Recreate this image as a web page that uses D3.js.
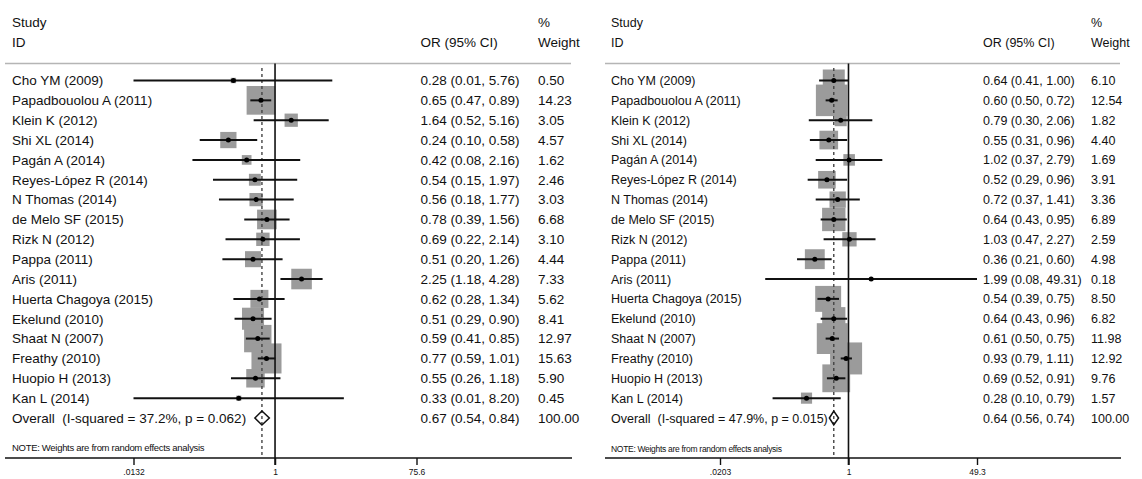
<!DOCTYPE html>
<html>
<head>
<meta charset="utf-8">
<script src="https://cdn.jsdelivr.net/npm/d3@7"></script>
<style>
  html, body { margin: 0; padding: 0; background: #fff; }
  svg { display: block; }
  text { font-family: "Liberation Sans", Arial, sans-serif; fill: #111; white-space: pre; }
</style>
</head>
<body>
<div id="chart"></div>
<script>
// ---------- data ----------
const studies = ["Cho YM (2009)", "Papadbouolou A (2011)", "Klein K (2012)", "Shi XL (2014)",
  "Pagán A (2014)", "Reyes-López R (2014)", "N Thomas (2014)", "de Melo SF (2015)",
  "Rizk N (2012)", "Pappa (2011)", "Aris (2011)", "Huerta Chagoya (2015)", "Ekelund (2010)",
  "Shaat N (2007)", "Freathy (2010)", "Huopio H (2013)", "Kan L (2014)"];

const leftOR  = [0.28, 0.65, 1.64, 0.24, 0.42, 0.54, 0.56, 0.78, 0.69, 0.51, 2.25, 0.62, 0.51, 0.59, 0.77, 0.55, 0.33];
const leftLo  = [0.01, 0.47, 0.52, 0.10, 0.08, 0.15, 0.18, 0.39, 0.22, 0.20, 1.18, 0.28, 0.29, 0.41, 0.59, 0.26, 0.01];
const leftHi  = [5.76, 0.89, 5.16, 0.58, 2.16, 1.97, 1.77, 1.56, 2.14, 1.26, 4.28, 1.34, 0.90, 0.85, 1.01, 1.18, 8.20];
const leftW   = [0.50, 14.23, 3.05, 4.57, 1.62, 2.46, 3.03, 6.68, 3.10, 4.44, 7.33, 5.62, 8.41, 12.97, 15.63, 5.90, 0.45];
const leftOverall = [0.67, 0.54, 0.84];     // OR, lo, hi
const leftHet = ["37.2%", "0.062"];          // I-squared, p
const leftTicks = [0.0132, 1, 75.6];
const leftTickLabels = [".0132", "1", "75.6"];

const rightOR = [0.64, 0.60, 0.79, 0.55, 1.02, 0.52, 0.72, 0.64, 1.03, 0.36, 1.99, 0.54, 0.64, 0.61, 0.93, 0.69, 0.28];
const rightLo = [0.41, 0.50, 0.30, 0.31, 0.37, 0.29, 0.37, 0.43, 0.47, 0.21, 0.08, 0.39, 0.43, 0.50, 0.79, 0.52, 0.10];
const rightHi = [1.00, 0.72, 2.06, 0.96, 2.79, 0.96, 1.41, 0.95, 2.27, 0.60, 49.31, 0.75, 0.96, 0.75, 1.11, 0.91, 0.79];
const rightW  = [6.10, 12.54, 1.82, 4.40, 1.69, 3.91, 3.36, 6.89, 2.59, 4.98, 0.18, 8.50, 6.82, 11.98, 12.92, 9.76, 1.57];
const rightOverall = [0.64, 0.56, 0.74];
const rightHet = ["47.9%", "0.015"];
const rightTicks = [0.0203, 1, 49.3];
const rightTickLabels = [".0203", "1", "49.3"];

const noteText = "NOTE: Weights are from random effects analysis";

// ---------- drawing ----------
const W = 1142, H = 479;
const svg = d3.select("#chart").append("svg").attr("width", W).attr("height", H);
svg.append("rect").attr("width", W).attr("height", H).attr("fill", "#fff");

const f2 = d3.format(".2f");

function panel(cfg) {
  const g = svg.append("g");
  const n = cfg.or.length;
  const y = d3.scaleLinear().domain([0, n]).range([80.5, 418]);
  const x = d3.scaleLog().domain([cfg.ticks[0], cfg.ticks[2]]).range(cfg.xr).clamp(true);
  const side = d3.scaleSqrt().domain([0, 1]).range([0, cfg.k]);
  const fs = cfg.fs;

  // header
  g.append("text").attr("x", cfg.nameX).attr("y", 27).attr("font-size", fs).text("Study");
  g.append("text").attr("x", cfg.nameX).attr("y", 47).attr("font-size", fs).text("ID");
  g.append("text").attr("x", cfg.orX).attr("y", 47).attr("font-size", fs).text("OR (95% CI)");
  g.append("text").attr("x", cfg.wX).attr("y", 27).attr("font-size", fs).text("%");
  g.append("text").attr("x", cfg.wX).attr("y", 47).attr("font-size", fs).text("Weight");
  g.append("line").attr("x1", cfg.lineX[0]).attr("x2", cfg.lineX[1]).attr("y1", 63.5).attr("y2", 63.5)
    .attr("stroke", "#b5b5b5").attr("stroke-width", 1.5);

  const idx = d3.range(n);

  // boxes
  g.selectAll("rect.box").data(idx).join("rect").attr("class", "box")
    .attr("x", i => x(cfg.or[i]) - side(cfg.w[i]) / 2)
    .attr("y", i => y(i) - side(cfg.w[i]) / 2)
    .attr("width", i => side(cfg.w[i]))
    .attr("height", i => side(cfg.w[i]))
    .attr("fill", "#9b9b9b");

  // reference lines
  g.append("line").attr("x1", x(1)).attr("x2", x(1)).attr("y1", 63.5).attr("y2", 465)
    .attr("stroke", "#111").attr("stroke-width", 1.6);
  g.append("line").attr("x1", x(cfg.overall[0])).attr("x2", x(cfg.overall[0])).attr("y1", 68).attr("y2", 458)
    .attr("stroke", "#444").attr("stroke-width", 1.4).attr("stroke-dasharray", "3,3");

  // CI lines
  g.selectAll("line.ci").data(idx).join("line").attr("class", "ci")
    .attr("x1", i => x(cfg.lo[i])).attr("x2", i => x(cfg.hi[i]))
    .attr("y1", i => y(i)).attr("y2", i => y(i))
    .attr("stroke", "#111").attr("stroke-width", 2);
  g.selectAll("circle.pt").data(idx).join("circle").attr("class", "pt")
    .attr("cx", i => x(cfg.or[i])).attr("cy", i => y(i)).attr("r", 2.5).attr("fill", "#000");

  // diamond
  const yo = y(n), dh = 7;
  g.append("path")
    .attr("d", `M${x(cfg.overall[1])},${yo} L${x(cfg.overall[0])},${yo - dh} L${x(cfg.overall[2])},${yo} L${x(cfg.overall[0])},${yo + dh} Z`)
    .attr("fill", "none").attr("stroke", "#111").attr("stroke-width", 1.5);

  // texts
  g.selectAll("text.name").data(idx).join("text").attr("class", "name")
    .attr("x", cfg.nameX).attr("y", i => y(i)).attr("dy", "0.36em").attr("font-size", fs)
    .text(i => studies[i]);
  g.selectAll("text.or").data(idx).join("text").attr("class", "or")
    .attr("x", cfg.orX).attr("y", i => y(i)).attr("dy", "0.36em").attr("font-size", fs)
    .text(i => `${f2(cfg.or[i])} (${f2(cfg.lo[i])}, ${f2(cfg.hi[i])})`);
  g.selectAll("text.w").data(idx).join("text").attr("class", "w")
    .attr("x", cfg.wX).attr("y", i => y(i)).attr("dy", "0.36em").attr("font-size", fs)
    .text(i => f2(cfg.w[i]));

  g.append("text").attr("x", cfg.nameX).attr("y", yo).attr("dy", "0.36em").attr("font-size", fs)
    .text(`Overall  (I-squared = ${cfg.het[0]}, p = ${cfg.het[1]})`);
  g.append("text").attr("x", cfg.orX).attr("y", yo).attr("dy", "0.36em").attr("font-size", fs)
    .text(`${f2(cfg.overall[0])} (${f2(cfg.overall[1])}, ${f2(cfg.overall[2])})`);
  g.append("text").attr("x", cfg.wX).attr("y", yo).attr("dy", "0.36em").attr("font-size", fs)
    .text(f2(100));

  g.append("text").attr("x", cfg.nameX).attr("y", cfg.noteY).attr("font-size", cfg.noteFs)
    .attr("letter-spacing", -0.3).text(noteText);

  // axis
  g.append("line").attr("x1", cfg.lineX[0]).attr("x2", cfg.lineX[1] + 1).attr("y1", 458).attr("y2", 458)
    .attr("stroke", "#111").attr("stroke-width", 1.6);
  const axis = d3.axisBottom(x).tickValues(cfg.ticks)
    .tickFormat((d, i) => cfg.tickLabels[i]).tickSize(7).tickPadding(4);
  const ax = g.append("g").attr("transform", "translate(0,458)").call(axis);
  ax.select(".domain").remove();
  ax.selectAll(".tick line").attr("stroke", "#111").attr("stroke-width", 1.4);
  ax.selectAll(".tick text").attr("font-size", 8.5).attr("font-family", "Liberation Sans, Arial, sans-serif")
    .attr("fill", "#111");
}

panel({ or: leftOR, lo: leftLo, hi: leftHi, w: leftW, overall: leftOverall, het: leftHet,
  ticks: leftTicks, tickLabels: leftTickLabels, xr: [133.5, 416.5], k: 7.6, fs: 13.5,
  nameX: 12, orX: 420.5, wX: 538, lineX: [5, 571], noteY: 451, noteFs: 9.5 });

panel({ or: rightOR, lo: rightLo, hi: rightHi, w: rightW, overall: rightOverall, het: rightHet,
  ticks: rightTicks, tickLabels: rightTickLabels, xr: [720, 977], k: 8.9, fs: 12.5,
  nameX: 611, orX: 983, wX: 1091, lineX: [605, 1120], noteY: 452, noteFs: 8.5 });
</script>
</body>
</html>
